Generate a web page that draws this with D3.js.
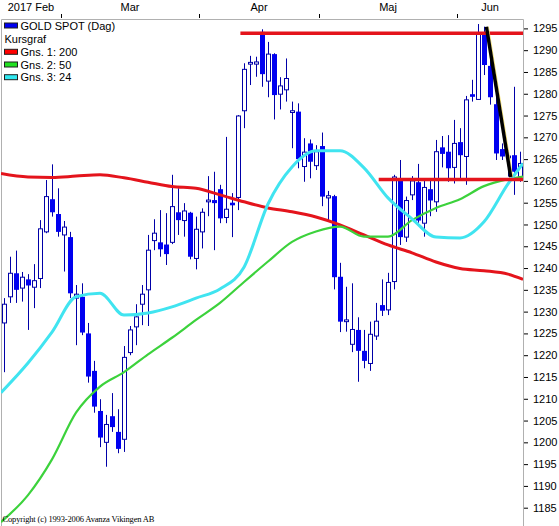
<!DOCTYPE html>
<html>
<head>
<meta charset="utf-8">
<script src="https://cdn.jsdelivr.net/npm/d3@7"></script>
<style>
body { margin: 0; background: #fff; }
svg { display: block; font-family: "Liberation Sans", Arial, sans-serif; }
</style>
</head>
<body>
<svg id="chart"></svg>
<script>
// month labels and the candle index where each month starts
let months = ['2017 Feb', 'Mar', 'Apr', 'Maj', 'Jun'];
let monthStart = [0, 10, 33, 53, 76];

// daily GOLD SPOT candles
let open = [1227.4, 1233.4, 1238.8, 1235.4, 1237.4, 1235.6, 1237.6, 1248.3, 1255.8, 1252.4,
	1247.6, 1247.1, 1233.1, 1233.4, 1225.0, 1216.4, 1207.2, 1200.0, 1206.0, 1202.4,
	1200.7, 1220.6, 1226.5, 1231.7, 1235.0, 1246.3, 1245.9, 1245.4, 1245.9, 1252.8,
	1250.9, 1252.7, 1242.2, 1248.3, 1255.2, 1255.6, 1258.1, 1251.6, 1255.0, 1256.2,
	1276.1, 1286.8, 1286.8, 1294.2, 1282.9, 1289.1, 1279.9, 1280.9, 1275.7, 1275.9,
	1263.3, 1268.6, 1263.5, 1268.0, 1256.1, 1256.5, 1238.0, 1227.7, 1222.5, 1225.8,
	1221.0, 1218.1, 1224.4, 1231.5, 1230.4, 1236.9, 1260.4, 1247.1, 1256.8, 1259.7,
	1250.3, 1258.1, 1255.2, 1267.7, 1266.7, 1263.1, 1268.9, 1265.6, 1279.9, 1278.7,
	1294.0, 1286.4, 1277.6, 1267.3, 1265.3, 1265.9, 1261.0];
let high = [1233.1, 1242.6, 1244.0, 1239.1, 1238.6, 1240.9, 1251.0, 1260.2, 1263.8, 1258.3,
	1250.8, 1248.3, 1236.1, 1236.5, 1227.4, 1218.7, 1209.9, 1206.3, 1211.3, 1207.6,
	1222.1, 1226.7, 1231.7, 1236.1, 1247.6, 1251.2, 1253.3, 1252.6, 1261.4, 1258.3,
	1254.9, 1252.9, 1251.8, 1253.7, 1261.1, 1262.1, 1259.1, 1270.1, 1257.2, 1275.1,
	1287.0, 1288.7, 1288.5, 1294.8, 1291.9, 1289.3, 1283.8, 1288.1, 1278.2, 1277.8,
	1269.8, 1269.5, 1268.2, 1271.1, 1257.7, 1256.8, 1241.2, 1235.7, 1236.5, 1228.7,
	1225.8, 1227.7, 1232.0, 1237.4, 1238.9, 1261.4, 1264.8, 1256.4, 1261.1, 1263.9,
	1260.2, 1260.4, 1269.4, 1270.3, 1270.5, 1274.0, 1272.1, 1279.5, 1283.2, 1296.0,
	1295.4, 1288.9, 1279.7, 1268.6, 1267.1, 1281.6, 1266.7];
let low = [1216.1, 1232.0, 1232.0, 1232.3, 1225.8, 1230.8, 1235.4, 1248.0, 1251.8, 1247.2,
	1239.2, 1233.1, 1222.3, 1224.6, 1213.7, 1206.8, 1198.9, 1194.4, 1202.4, 1197.5,
	1197.8, 1220.0, 1222.3, 1226.9, 1226.7, 1244.1, 1242.6, 1240.7, 1245.5, 1247.6,
	1247.2, 1242.0, 1239.7, 1244.5, 1251.9, 1244.1, 1250.3, 1250.3, 1247.1, 1253.3,
	1272.1, 1282.0, 1283.9, 1281.6, 1279.2, 1274.1, 1276.4, 1278.2, 1267.5, 1262.9,
	1259.8, 1260.6, 1262.5, 1254.2, 1251.0, 1235.1, 1225.3, 1225.4, 1220.7, 1213.9,
	1217.0, 1216.4, 1223.5, 1229.0, 1229.2, 1235.1, 1245.3, 1246.0, 1255.6, 1250.4,
	1247.2, 1251.9, 1252.9, 1263.1, 1259.8, 1259.4, 1260.2, 1259.1, 1278.2, 1278.6,
	1284.3, 1277.5, 1264.8, 1264.8, 1261.0, 1256.8, 1259.8];
let close = [1231.7, 1238.8, 1235.0, 1237.9, 1236.0, 1237.1, 1249.0, 1256.4, 1252.8, 1248.3,
	1249.4, 1234.2, 1234.0, 1225.2, 1215.1, 1208.2, 1201.1, 1204.1, 1203.5, 1198.5,
	1219.5, 1225.8, 1228.8, 1234.0, 1244.1, 1248.0, 1244.3, 1243.2, 1254.1, 1251.0,
	1253.1, 1242.6, 1248.9, 1252.8, 1255.6, 1254.9, 1251.4, 1253.5, 1254.4, 1274.9,
	1285.6, 1287.2, 1287.3, 1284.5, 1289.1, 1279.7, 1281.8, 1283.5, 1276.1, 1265.0,
	1266.6, 1264.4, 1266.7, 1256.4, 1256.6, 1237.9, 1227.7, 1228.1, 1225.9, 1221.0,
	1218.7, 1224.8, 1227.8, 1230.2, 1236.7, 1260.9, 1247.1, 1255.5, 1260.0, 1250.9,
	1258.5, 1255.5, 1266.7, 1266.2, 1262.9, 1268.6, 1265.9, 1278.6, 1279.3, 1294.0,
	1286.6, 1279.2, 1266.3, 1265.6, 1265.7, 1262.1, 1264.0];

// moving averages, read at these candle positions
let maIdx = [-0.5, 4, 8, 12, 16, 20, 24, 28, 32, 36, 40, 44, 48, 52, 56, 60, 64, 68, 72, 76, 80, 84, 86.5];
let ma200 = [1261.7, 1260.9, 1260.8, 1261.1, 1261.4, 1260.7, 1259.7, 1258.7, 1258.3, 1256.8, 1255.2, 1253.8,
	1252.9, 1251.7, 1249.9, 1247.6, 1245.3, 1243.5, 1241.4, 1239.9, 1239.4, 1238.6, 1237.4];
let ma50 = [1181.7, 1187.9, 1196.1, 1206.8, 1212.8, 1216.1, 1220.2, 1224.0, 1228.1, 1232.0, 1236.8, 1241.5,
	1246.0, 1248.4, 1249.5, 1247.2, 1247.2, 1251.0, 1253.8, 1255.8, 1258.8, 1260.4, 1261.0];
let ma24 = [1211.4, 1218.2, 1225.3, 1233.4, 1234.2, 1229.2, 1229.7, 1231.1, 1233.1, 1235.2, 1240.2, 1254.7,
	1263.2, 1266.9, 1266.9, 1263.0, 1256.1, 1251.3, 1247.1, 1246.9, 1250.6, 1259.3, 1264.0];

// user drawn lines: [start index, end index, start value, end value]
let levelLines = [[39.4, 86.5, 1293.9, 1293.9], [62.45, 86.5, 1260.3, 1260.3]];
let trendLine = [80.4, 84.45, 1295.4, 1260.9];

let yTicks = [1185, 1190, 1195, 1200, 1205, 1210, 1215, 1220, 1225, 1230, 1235, 1240,
	1245, 1250, 1255, 1260, 1265, 1270, 1275, 1280, 1285, 1290, 1295];

let legendLabels = ['GOLD SPOT (Dag)', 'Kursgraf', 'Gns. 1: 200', 'Gns. 2: 50', 'Gns. 3: 24'];

function makeChart() {
	let w = 559;
	let h = 526;
	let left = 1, right = 523, top = 19;
	let n = open.length;

	let red = '#e4141c', green = '#3cd23c', cyan = '#40e4f0', blue = '#0000f0', dark = '#0000a8';

	let chart = d3.select('#chart')
		.attr('width', w)
		.attr('height', h);

	let x = d3.scaleLinear()
		.domain([-0.5, n - 0.5])
		.range([left, right]);
	let y = d3.scaleLinear()
		.domain([1185, 1295])
		.range([507.7, 28.4]);

	chart.append('clipPath').attr('id', 'plot')
		.append('rect')
		.attr('x', left).attr('y', top)
		.attr('width', right - left).attr('height', h - top);

	// frame
	chart.append('path')
		.attr('d', `M${left + 0.5},${h} V${top + 0.5} H${right + 0.5} V${h}`)
		.attr('fill', 'none')
		.attr('stroke', '#b0b0b0');

	// month axis on top
	let bounds = monthStart.slice(1).map(i => x(i - 0.5));
	chart.selectAll('line.mtick')
		.data(bounds)
		.enter()
		.append('line')
		.attr('class', 'mtick')
		.attr('x1', d => Math.round(d) + 0.5)
		.attr('x2', d => Math.round(d) + 0.5)
		.attr('y1', 14)
		.attr('y2', 18)
		.attr('stroke', '#000');

	chart.selectAll('text.month')
		.data(months)
		.enter()
		.append('text')
		.attr('class', 'month')
		.attr('x', (d, i) => {
			let a = x(monthStart[i] - 0.5);
			let b = i < months.length - 1 ? x(monthStart[i + 1] - 0.5) : right;
			return (a + b) / 2;
		})
		.attr('y', 11)
		.attr('text-anchor', 'middle')
		.attr('font-size', '11px')
		.text(d => d);

	// price axis on the right
	let yAxis = chart.append('g')
		.attr('transform', `translate(${right + 1},0)`)
		.call(d3.axisRight(y).tickValues(yTicks).tickFormat(d3.format('d')).tickSize(4).tickPadding(5));
	yAxis.select('.domain').remove();
	yAxis.selectAll('text').attr('font-size', '11px').attr('font-family', '"Liberation Sans", Arial, sans-serif');

	let plot = chart.append('g').attr('clip-path', 'url(#plot)');

	// candles
	let idx = d3.range(n);
	let cx = i => Math.round(x(i));

	plot.selectAll('line.wick')
		.data(idx)
		.enter()
		.append('line')
		.attr('class', 'wick')
		.attr('x1', i => cx(i) + 0.5)
		.attr('x2', i => cx(i) + 0.5)
		.attr('y1', i => y(high[i]))
		.attr('y2', i => y(low[i]))
		.attr('stroke', dark);

	plot.selectAll('rect.body')
		.data(idx)
		.enter()
		.append('rect')
		.attr('class', 'body')
		.attr('x', i => close[i] >= open[i] ? cx(i) - 1.5 : cx(i) - 2)
		.attr('width', i => close[i] >= open[i] ? 4 : 5)
		.attr('y', i => y(Math.max(open[i], close[i])))
		.attr('height', i => Math.max(1.5, Math.abs(y(open[i]) - y(close[i]))))
		.attr('fill', i => close[i] >= open[i] ? '#fff' : blue)
		.attr('stroke', i => close[i] >= open[i] ? dark : 'none');

	// moving averages
	let maLine = vals => d3.line()
		.x((d, i) => x(d))
		.y((d, i) => y(vals[i]))
		.curve(d3.curveMonotoneX)(maIdx);

	plot.append('path').attr('d', maLine(ma200))
		.attr('fill', 'none').attr('stroke', red).attr('stroke-width', 3);
	plot.append('path').attr('d', maLine(ma50))
		.attr('fill', 'none').attr('stroke', green).attr('stroke-width', 2.2);
	plot.append('path').attr('d', maLine(ma24))
		.attr('fill', 'none').attr('stroke', cyan).attr('stroke-width', 3);

	// drawn support / resistance lines
	plot.selectAll('line.level')
		.data(levelLines)
		.enter()
		.append('line')
		.attr('class', 'level')
		.attr('x1', d => x(d[0]))
		.attr('x2', d => x(d[1]))
		.attr('y1', d => y(d[2]))
		.attr('y2', d => y(d[3]))
		.attr('stroke', red)
		.attr('stroke-width', 3.5);

	plot.append('line')
		.attr('x1', x(trendLine[0]) + 2)
		.attr('x2', x(trendLine[1]) + 2)
		.attr('y1', y(trendLine[2]))
		.attr('y2', y(trendLine[3]))
		.attr('stroke', '#f4e070')
		.attr('stroke-width', 1);
	plot.append('line')
		.attr('x1', x(trendLine[0]))
		.attr('x2', x(trendLine[1]))
		.attr('y1', y(trendLine[2]))
		.attr('y2', y(trendLine[3]))
		.attr('stroke', '#000')
		.attr('stroke-width', 3.5);

	// legend
	let swatch = [blue, null, '#ff0000', '#22e022', '#30e8f0'];
	let rowY = [25.5, 38.5, 51.8, 64.5, 77.2];
	let legend = chart.append('g');
	legend.selectAll('rect')
		.data(legendLabels.filter((d, i) => swatch[i]))
		.enter()
		.append('rect')
		.attr('x', 4.5)
		.attr('y', d => rowY[legendLabels.indexOf(d)] - 2.5)
		.attr('width', 13)
		.attr('height', 5)
		.attr('fill', d => swatch[legendLabels.indexOf(d)])
		.attr('stroke', '#202020');
	legend.selectAll('text')
		.data(legendLabels)
		.enter()
		.append('text')
		.attr('x', (d, i) => swatch[i] ? 20.5 : 4.5)
		.attr('y', (d, i) => rowY[i] + 4)
		.attr('font-size', '11px')
		.text(d => d);

	chart.append('text')
		.attr('x', 2.5)
		.attr('y', 522)
		.attr('font-family', '"Liberation Serif", "Times New Roman", serif')
		.attr('font-size', '8.5px')
		.attr('textLength', 152)
		.text('Copyright (c) 1993-2006 Avanza Vikingen AB');
}

window.onload = function () {
	makeChart();
}
</script>
</body>
</html>
